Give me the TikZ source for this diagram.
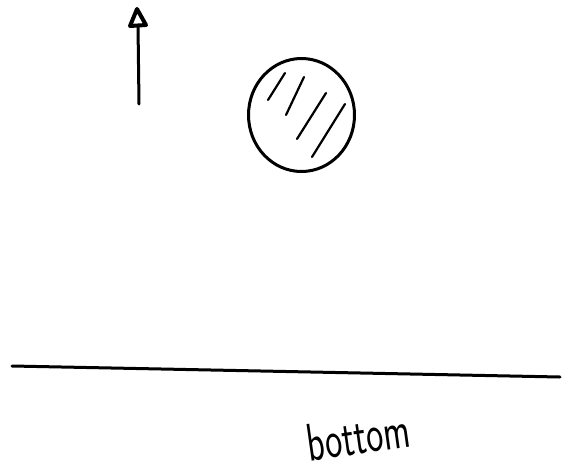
\documentclass[tikz,border=0pt]{standalone}
\usetikzlibrary{arrows.meta,shapes.geometric}
\begin{document}
\begin{tikzpicture}[x=1pt,y=-1pt,
  ink/.style={line width=3pt,line cap=round,line join=round},
  hatch/.style={line width=2.2pt,line cap=round},
  label/.style={font=\sffamily\fontsize{38}{38}\selectfont,inner sep=0pt}]
\useasboundingbox (0,0) rectangle (571,475);
% arrow
\coordinate (atail) at (139,104);
\coordinate (abase) at (138,25);
\coordinate (ahead) at (137,9);
\coordinate (aleft) at (130,26);
\coordinate (aright) at (146,25);
\draw[ink] (atail) -- (abase);
\draw[line width=4pt,line join=round] (ahead) -- (aleft) -- (aright) -- cycle;
% blob
\node[ellipse,draw,ink,minimum width=106pt,minimum height=113pt,inner sep=0pt] (blob) at (301.5,115) {};
\draw[hatch] (285,73) -- (268,100);
\draw[hatch] (304,77) -- (286,115);
\draw[hatch] (326,93) -- (297,139);
\draw[hatch] (345,104) -- (312,157);
% ground line
\coordinate (gl) at (12,366);
\coordinate (gr) at (560,377);
\draw[ink] (gl) -- (gr);
% label
\node[label,rotate=8,yscale=1.4,xscale=0.95] (bot) at (358,436) {bottom};
\end{tikzpicture}
\end{document}
